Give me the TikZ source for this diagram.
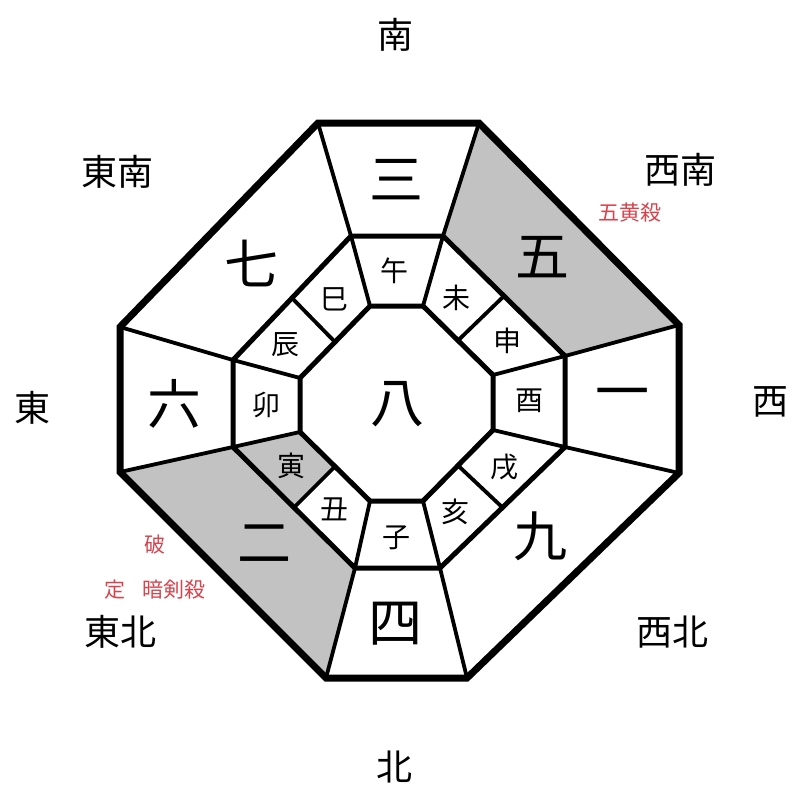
\documentclass[tikz,border=0pt]{standalone}
\usepackage{fontspec}
\usetikzlibrary{calc}
\setmainfont{Noto Sans CJK JP}
\definecolor{cellgray}{RGB}{194,194,194}
\definecolor{redtxt}{RGB}{214,68,78}
\tikzset{
  outerline/.style={line width=7pt, line join=miter},
  ringline/.style={line width=5pt, line join=miter},
  spoke/.style={line width=3.8pt},
  big/.style={font=\fontsize{54}{58}\selectfont, inner sep=0pt},
  branch/.style={font=\fontsize{28}{32}\selectfont, inner sep=0pt},
  dir/.style={font=\fontsize{36}{40}\selectfont, inner sep=0pt},
  note/.style={font=\fontsize{21}{24}\selectfont, text=redtxt, inner sep=0pt},
}
\begin{document}
\begin{tikzpicture}[x=1pt,y=-1pt]
\useasboundingbox (0,0) rectangle (800,800);
\fill[white] (0,0) rectangle (800,800);
% outer octagon
\coordinate (O1) at (318,123);
\coordinate (O2) at (479,123);
\coordinate (O3) at (679,325);
\coordinate (O4) at (679,473);
\coordinate (O5) at (467,678);
\coordinate (O6) at (326,678);
\coordinate (O7) at (120,472);
\coordinate (O8) at (120,327);
% middle ring
\coordinate (M1) at (351,236);
\coordinate (M2) at (443,236);
\coordinate (M3) at (565,356);
\coordinate (M4) at (565,447);
\coordinate (M5) at (440,568);
\coordinate (M6) at (355,568);
\coordinate (M7) at (233,447);
\coordinate (M8) at (233,360);
% inner octagon
\coordinate (I1) at (370,306);
\coordinate (I2) at (423,306);
\coordinate (I3) at (493,375);
\coordinate (I4) at (493,430);
\coordinate (I5) at (423,501);
\coordinate (I6) at (370,501);
\coordinate (I7) at (300,432);
\coordinate (I8) at (300,378);
% midpoints of diagonal edges
\coordinate (M23) at ($(M2)!0.5!(M3)$);
\coordinate (M45) at ($(M4)!0.5!(M5)$);
\coordinate (M67) at ($(M6)!0.5!(M7)$);
\coordinate (M81) at ($(M8)!0.5!(M1)$);
\coordinate (I23) at ($(I2)!0.5!(I3)$);
\coordinate (I45) at ($(I4)!0.5!(I5)$);
\coordinate (I67) at ($(I6)!0.5!(I7)$);
\coordinate (I81) at ($(I8)!0.5!(I1)$);
% shaded regions
\fill[cellgray] (O2) -- (O3) -- (M3) -- (M2) -- cycle;
\fill[cellgray] (O7) -- (O6) -- (M6) -- (M7) -- cycle;
\fill[cellgray] (M7) -- (M67) -- (I67) -- (I7) -- cycle;
% spokes outer
\foreach \i in {1,...,8} \draw[spoke] (O\i) -- (M\i);
% spokes middle ring
\foreach \i in {1,...,8} \draw[spoke] (M\i) -- (I\i);
\draw[spoke] (M23) -- (I23);
\draw[spoke] (M45) -- (I45);
\draw[spoke] (M67) -- (I67);
\draw[spoke] (M81) -- (I81);
% ring octagons
\draw[ringline] (M1) -- (M2) -- (M3) -- (M4) -- (M5) -- (M6) -- (M7) -- (M8) -- cycle;
\draw[ringline] (I1) -- (I2) -- (I3) -- (I4) -- (I5) -- (I6) -- (I7) -- (I8) -- cycle;
\draw[outerline] (O1) -- (O2) -- (O3) -- (O4) -- (O5) -- (O6) -- (O7) -- (O8) -- cycle;
% big numerals
\node[big] (n3) at (396,180) {三};
\node[big] (n5) at (542,257) {五};
\node[big] (n7) at (251,263) {七};
\node[big] (n6) at (174,404) {六};
\node[big] (n1) at (622,400) {一};
\node[big] (n2) at (264,544) {二};
\node[big] (n9) at (540,536) {九};
\node[big] (n4) at (395,624) {四};
\node[big] (n8) at (397,404) {八};
% branches
\node[branch] (b1) at (394,271) {午};
\node[branch] (b2) at (456,298) {未};
\node[branch] (b3) at (507,341) {申};
\node[branch] (b4) at (529,401) {酉};
\node[branch] (b5) at (504,467) {戌};
\node[branch] (b6) at (455,512) {亥};
\node[branch] (b7) at (396,538) {子};
\node[branch] (b8) at (334,509) {丑};
\node[branch] (b9) at (291,466) {寅};
\node[branch] (b10) at (266,405) {卯};
\node[branch] (b11) at (285,345) {辰};
\node[branch] (b12) at (334,299) {巳};
% directions
\node[dir] (dS) at (395,35) {南};
\node[dir] (dSE) at (117,172) {東南};
\node[dir] (dSW) at (680,170) {西南};
\node[dir] (dE) at (32,408) {東};
\node[dir] (dW) at (770,402) {西};
\node[dir] (dNE) at (120,632) {東北};
\node[dir] (dNW) at (672,632) {西北};
\node[dir] (dN) at (394,767) {北};
% red notes
\node[note] (r1) at (630,213) {五黄殺};
\node[note] (r2) at (155,545) {破};
\node[note] (r3) at (115,590) {定};
\node[note] (r4) at (174,590) {暗剣殺};
\end{tikzpicture}
\end{document}
